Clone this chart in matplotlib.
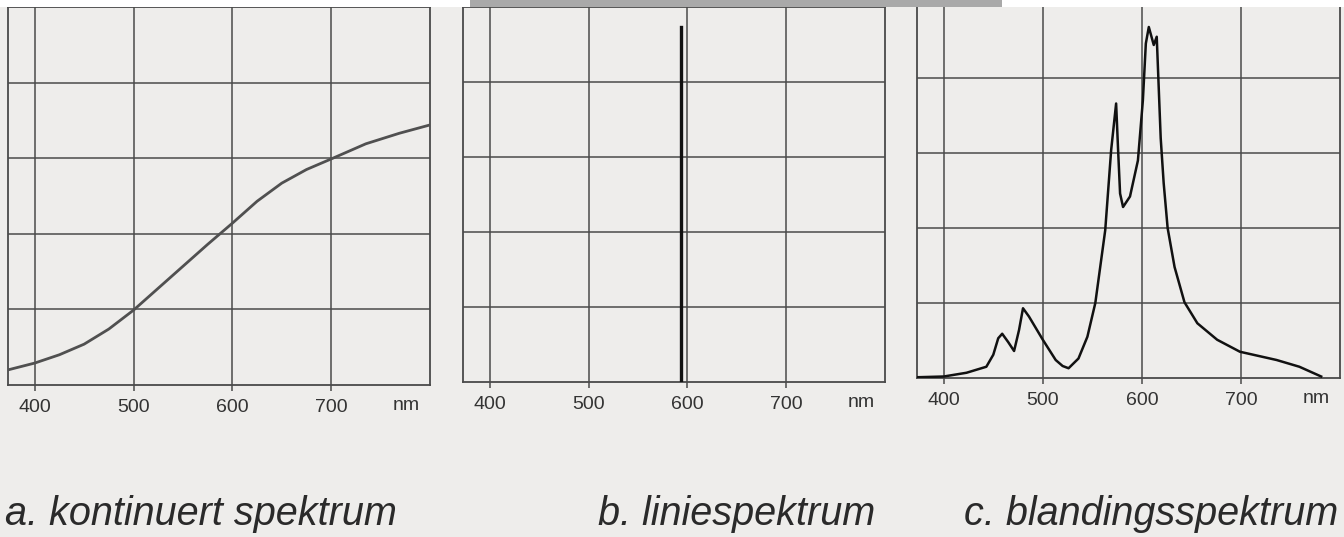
import matplotlib
matplotlib.use("Agg")
import matplotlib.pyplot as plt
from matplotlib.patches import Rectangle
from matplotlib import font_manager

# ---------------- data ----------------
ticks_nm = [400, 500, 600, 700]
tick_labels = ["400", "500", "600", "700"]
grid_levels = [1, 2, 3, 4]

# a. continuous spectrum
cont_wl = [373, 400, 425, 450, 475, 500, 525, 550, 575, 600, 625, 650, 675, 700, 735, 769, 800]
cont_val = [0.20, 0.29, 0.40, 0.54, 0.74, 0.99, 1.28, 1.57, 1.86, 2.14, 2.43, 2.67, 2.85, 2.99, 3.19, 3.33, 3.44]

# b. line spectrum
line_wl = 594
line_height = 4.73

# c. mixed spectrum
mix_wl = [373, 400, 423, 443, 450, 455, 459, 465, 471, 476, 480, 486, 500, 513, 520, 526, 536, 545, 553,
          563, 569, 574, 576, 578, 581, 588, 596, 601, 604, 607, 612, 615, 619, 622, 626, 633, 643, 656,
          676, 699, 736, 759, 781]
mix_val = [0.01, 0.02, 0.07, 0.15, 0.31, 0.53, 0.59, 0.48, 0.36, 0.64, 0.93, 0.82, 0.51, 0.24, 0.16, 0.13,
           0.26, 0.55, 1.00, 1.97, 3.04, 3.66, 3.04, 2.46, 2.28, 2.42, 2.90, 3.70, 4.46, 4.68, 4.44, 4.55,
           3.20, 2.60, 2.00, 1.48, 1.01, 0.73, 0.51, 0.35, 0.24, 0.15, 0.02]

captions = ["a. kontinuert spektrum", "b. liniespektrum", "c. blandingsspektrum"]

# ---------------- style ----------------
names = {f.name for f in font_manager.fontManager.ttflist}
cap_family = "Liberation Sans Narrow" if "Liberation Sans Narrow" in names else "Liberation Sans"

W, H = 1344, 537
paper = "#eeedeb"
fig = plt.figure(figsize=(W / 100, H / 100), dpi=100, facecolor=paper)

# white strip and gray bar at the top edge (scan artefact)
fig.patches.append(Rectangle((0, 1 - 7 / H), 1, 7 / H, transform=fig.transFigure,
                             facecolor="white", edgecolor="none", zorder=0))
fig.patches.append(Rectangle((470 / W, 1 - 7 / H), (1002 - 470) / W, 7 / H, transform=fig.transFigure,
                             facecolor="#a9a9a9", edgecolor="none", zorder=1))

# panel boxes in pixels: left, right, top, bottom
boxes = [(8, 430, 7, 385), (463, 885, 7, 382), (917, 1340, 3, 378)]
grid_col = "#4a4a4a"

axes = []
for (l, r, t, b) in boxes:
    ax = fig.add_axes([l / W, 1 - b / H, (r - l) / W, (b - t) / H])
    ax.set_facecolor(paper)
    ax.set_xlim(373, 800)
    ax.set_ylim(0, 5)
    ax.set_xticks(ticks_nm)
    ax.set_xticklabels(tick_labels, family=cap_family, fontsize=14, color="#333333")
    ax.set_yticks(grid_levels)
    ax.set_yticklabels([])
    ax.tick_params(axis="y", length=0)
    ax.tick_params(axis="x", length=4, width=1.1, color=grid_col, pad=6, direction="out")
    ax.grid(True, color=grid_col, linewidth=1.1)
    ax.set_axisbelow(True)
    for s in ax.spines.values():
        s.set_color(grid_col)
        s.set_linewidth(1.3)
    ax.text(776, -0.27, "nm", ha="center", va="center", family=cap_family, fontsize=14, color="#333333",
            clip_on=False)
    axes.append(ax)

axes[0].plot(cont_wl, cont_val, color="#505050", linewidth=2.0, zorder=3, solid_joinstyle="round")
axes[1].plot([line_wl, line_wl], [0, line_height], color="#111111", linewidth=2.4, zorder=3)
axes[2].plot(mix_wl, mix_val, color="#111111", linewidth=1.8, zorder=3, solid_joinstyle="round")

# caption anchors: (x pixel, horizontal alignment)
cap_pos = [(5, "left"), (875, "right"), (1338, "right")]
for (x, ha), txt in zip(cap_pos, captions):
    fig.text(x / W, 1 - 514 / H, txt, ha=ha, va="center", family=cap_family, style="italic",
             fontsize=28.5, color="#2a2a2a")

fig.savefig("out.png", dpi=100, facecolor=paper)
